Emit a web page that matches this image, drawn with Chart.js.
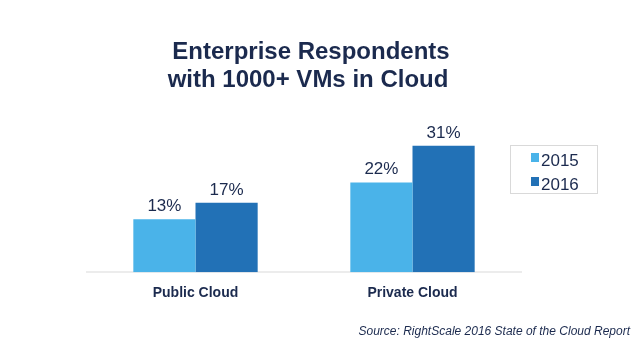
<!DOCTYPE html>
<html>
<head>
<meta charset="utf-8">
<script src="https://cdn.jsdelivr.net/npm/chart.js@4/dist/chart.umd.min.js"></script>
<style>
  html, body { margin: 0; padding: 0; background: #ffffff; }
  #wrap { width: 640px; height: 360px; position: relative; }
</style>
</head>
<body>
<div id="wrap"><canvas id="c" width="640" height="360"></canvas></div>
<script>
const titleLines = ["Enterprise Respondents", "with 1000+ VMs in Cloud"];
const categories = ["Public Cloud", "Private Cloud"];
const seriesLabels = ["2015", "2016"];
const values2015 = [13, 22];
const values2016 = [17, 31];
const sourceText = "Source: RightScale 2016 State of the Cloud Report";

const NAVY = "#1b2a4e";
const LIGHT = "#4ab3e9";
const DARK = "#2271b6";
const FONT = '"Liberation Sans", Arial, Helvetica, sans-serif';

const extras = {
  id: "extras",
  afterDatasetsDraw(chart) {
    const ctx = chart.ctx;
    ctx.save();
    ctx.fillStyle = NAVY;
    ctx.font = "17px " + FONT;
    ctx.textAlign = "center";
    ctx.textBaseline = "alphabetic";
    chart.data.datasets.forEach((ds, i) => {
      const meta = chart.getDatasetMeta(i);
      meta.data.forEach((el, j) => {
        ctx.fillText(ds.data[j] + "%", el.x, el.y - 8);
      });
    });
    ctx.restore();
  },
  afterDraw(chart) {
    const ctx = chart.ctx;
    ctx.save();
    ctx.fillStyle = NAVY;
    ctx.font = "bold 24px " + FONT;
    ctx.textAlign = "center";
    ctx.textBaseline = "alphabetic";
    ctx.fillText(titleLines[0], 311, 59);
    ctx.fillText(titleLines[1], 308, 87);
    ctx.fillStyle = "#ffffff";
    ctx.fillRect(510.5, 145.5, 87, 48);
    ctx.strokeStyle = "#d9d9d9";
    ctx.lineWidth = 1;
    ctx.strokeRect(510.5, 145.5, 87, 48);
    ctx.font = "17px " + FONT;
    ctx.textAlign = "left";
    const rows = [166, 190];
    chart.data.datasets.forEach((ds, i) => {
      ctx.fillStyle = ds.backgroundColor;
      ctx.fillRect(531, rows[i] - 13, 8, 9);
      ctx.fillStyle = NAVY;
      ctx.fillText(ds.label, 541, rows[i]);
    });
    ctx.font = "italic 12px " + FONT;
    ctx.textAlign = "right";
    ctx.fillStyle = NAVY;
    ctx.fillText(sourceText, 630, 335);
    ctx.restore();
  }
};

new Chart(document.getElementById("c"), {
  type: "bar",
  data: {
    labels: categories,
    datasets: [
      { label: seriesLabels[0], data: values2015, backgroundColor: LIGHT },
      { label: seriesLabels[1], data: values2016, backgroundColor: DARK }
    ]
  },
  options: {
    responsive: false,
    animation: false,
    devicePixelRatio: 1,
    layout: { padding: { left: 87, right: 119, top: 109, bottom: 53 } },
    datasets: { bar: { categoryPercentage: 0.573, barPercentage: 1.0 } },
    plugins: {
      legend: { display: false },
      title: { display: false },
      tooltip: { enabled: false }
    },
    scales: {
      x: {
        grid: { display: false },
        border: { display: true, color: "#ececec", width: 2 },
        ticks: { color: NAVY, font: { family: FONT, size: 14, weight: "bold" }, padding: 5 }
      },
      y: {
        display: false,
        min: 0,
        max: 40
      }
    }
  },
  plugins: [extras]
});
</script>
</body>
</html>
